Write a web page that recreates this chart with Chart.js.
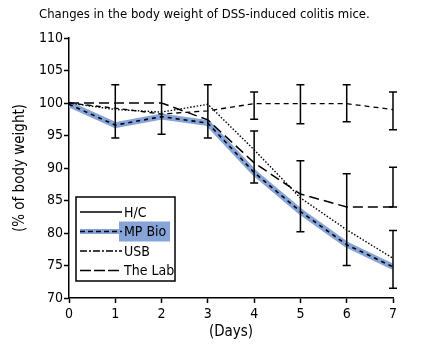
<!DOCTYPE html>
<html>
<head>
<meta charset="utf-8">
<script src="https://cdn.jsdelivr.net/npm/chart.js@4.4.0/dist/chart.umd.min.js"></script>
<style>
  html, body { margin: 0; padding: 0; background: #fff; }
  #wrap { width: 432px; height: 350px; }
</style>
</head>
<body>
<div id="wrap"><canvas id="chart" width="432" height="350"></canvas></div>
<script>
// data
const days = [0, 1, 2, 3, 4, 5, 6, 7];
const hc = [100, 99.2, 98.3, 98.8, 99.9, 99.9, 99.9, 99.0];
const mpBio = [99.8, 96.6, 97.9, 96.9, 89.3, 83.3, 78.2, 74.8];
const usb = [100, 99.0, 98.6, 99.8, 92.8, 85.4, 80.5, 76.1];
const theLab = [100, 100, 100, 97.4, 90.8, 86.0, 84.0, 84.0];

// error bars (day, low, high)
const errDays = [1, 2, 3, 4, 4, 5, 5, 6, 6, 7, 7, 7];
const errLow  = [94.6, 95.2, 94.6, 97.5, 87.7, 96.8, 80.2, 97.1, 75.0, 95.9, 84.0, 71.5];
const errHigh = [102.8, 102.8, 102.8, 101.7, 95.7, 102.8, 91.1, 102.8, 89.1, 101.7, 90.1, 80.4];

const yTicks = [70, 75, 80, 85, 90, 95, 100, 105, 110];
const legendNames = ["H/C", "MP Bio", "USB", "The Lab"];

const FONT = '"Liberation Sans Narrow", "Arial Narrow", "DejaVu Sans Condensed", sans-serif';
const BLUE = "#86a4d8";

const pts = arr => arr.map((v, i) => ({ x: days[i], y: v }));

// error bars drawn through the scales
const errorBars = {
  id: "errorBars",
  afterDatasetsDraw(chart) {
    const { ctx, scales: { x, y } } = chart;
    ctx.save();
    ctx.strokeStyle = "#000";
    ctx.lineWidth = 1.5;
    errDays.forEach((d, i) => {
      const px = x.getPixelForValue(d);
      const y1 = y.getPixelForValue(errLow[i]);
      const y2 = y.getPixelForValue(errHigh[i]);
      ctx.beginPath();
      ctx.moveTo(px, y1); ctx.lineTo(px, y2);
      ctx.moveTo(px - 4, y1); ctx.lineTo(px + 4, y1);
      ctx.moveTo(px - 4, y2); ctx.lineTo(px + 4, y2);
      ctx.stroke();
    });
    ctx.restore();
  }
};

// title + boxed legend inside the plot
const extras = {
  id: "extras",
  afterDraw(chart) {
    const { ctx, chartArea } = chart;
    ctx.save();
    ctx.fillStyle = "#000";
    ctx.font = "13px " + FONT;
    ctx.textBaseline = "middle";
    ctx.textAlign = "left";
    ctx.fillText("Changes in the body weight of DSS-induced colitis mice.", 39, 15);

    ctx.font = "14px " + FONT;
    const bx = chartArea.left + 7, by = chartArea.bottom - 101;
    const bw = 99, bh = 84;
    ctx.fillStyle = "#fff";
    ctx.fillRect(bx, by, bw, bh);
    ctx.strokeStyle = "#000";
    ctx.lineWidth = 1.5;
    ctx.strokeRect(bx, by, bw, bh);

    const dashes = [[], [5, 3], [7, 2, 2, 2], [11, 3]];
    legendNames.forEach((name, i) => {
      const ry = by + 15 + i * 19.5;
      const x1 = bx + 4, x2 = bx + 46;
      if (i === 1) {
        ctx.fillStyle = BLUE;
        ctx.fillRect(x1, ry - 2.5, 43, 5);
        ctx.fillRect(bx + 43, ry - 10, 51, 20);
      }
      ctx.setLineDash(dashes[i]);
      ctx.lineWidth = 1.5;
      ctx.beginPath();
      ctx.moveTo(x1, ry); ctx.lineTo(x2, ry);
      ctx.stroke();
      ctx.setLineDash([]);
      ctx.fillStyle = "#000";
      ctx.fillText(name, bx + 48, ry + 1);
    });
    ctx.restore();
  }
};

const line = (data, opts) => Object.assign({
  data: pts(data),
  borderColor: "#000",
  borderWidth: 1.3,
  pointRadius: 0,
  tension: 0,
  fill: false
}, opts);

new Chart(document.getElementById("chart"), {
  type: "line",
  data: {
    datasets: [
      line(mpBio, { label: "MP Bio highlight", borderColor: BLUE, borderWidth: 6, order: 5 }),
      line(hc, { label: "H/C", borderDash: [5, 4], order: 4 }),
      line(usb, { label: "USB", borderDash: [1.5, 1.8], borderWidth: 1.4, order: 3 }),
      line(theLab, { label: "The Lab", borderDash: [10, 5], borderWidth: 1.5, order: 2 }),
      line(mpBio, { label: "MP Bio", borderDash: [4, 4], borderWidth: 1.6, order: 1 })
    ]
  },
  options: {
    responsive: false,
    animation: false,
    layout: { padding: { top: 38, right: 39, left: 0, bottom: 0 } },
    plugins: { legend: { display: false }, tooltip: { enabled: false } },
    scales: {
      x: {
        type: "linear",
        min: 0, max: 7,
        afterFit: s => { s.height = 52; },
        ticks: { stepSize: 1, color: "#000", padding: 3, font: { family: FONT, size: 14 } },
        grid: { drawOnChartArea: false, drawTicks: true, tickLength: 5, tickColor: "#000", tickWidth: 1.5 },
        border: { display: true, color: "#000", width: 1.5 },
        title: { display: true, text: "(Days)", color: "#000", font: { family: FONT, size: 15 }, padding: { top: 0, bottom: 9 } }
      },
      y: {
        type: "linear",
        min: 70, max: 110,
        afterFit: s => { s.width = 69; },
        afterBuildTicks: s => { s.ticks = yTicks.map(v => ({ value: v })); },
        ticks: { color: "#000", padding: 1, font: { family: FONT, size: 14 } },
        grid: { drawOnChartArea: false, drawTicks: true, tickLength: 5, tickColor: "#000", tickWidth: 1.5 },
        border: { display: true, color: "#000", width: 1.5 },
        title: { display: true, text: "(% of body weight)", color: "#000", font: { family: FONT, size: 15 }, padding: { top: 11, bottom: 0 } }
      }
    }
  },
  plugins: [errorBars, extras]
});
</script>
</body>
</html>
